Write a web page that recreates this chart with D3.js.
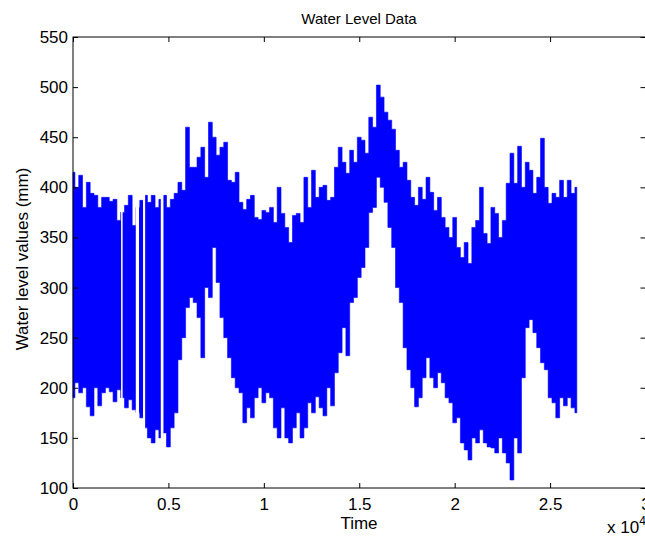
<!doctype html>
<html>
<head>
<meta charset="utf-8">
<script src="https://cdn.jsdelivr.net/npm/d3@7"></script>
<style>
  body { margin: 0; background: #fff; }
  svg { display: block; font-family: "Liberation Sans", Arial, sans-serif; }
</style>
</head>
<body>
<svg width="645" height="542"></svg>
<script>
// time step between envelope samples
var step = 200;

// upper envelope of the water level (mm), one value per 200 time units
var highs = [415, 400, 412, 380, 405, 394, 392, 380, 390, 390,
             386, 388, 367, 375, 382, 392, 362, 380, 387, 392,
             385, 392, 380, 388, 392, 380, 388, 394, 405, 397,
             460, 420, 420, 430, 440, 410, 465, 450, 432, 440,
             445, 407, 405, 415, 385, 378, 388, 392, 370, 368,
             377, 375, 380, 365, 400, 374, 360, 345, 372, 374,
             365, 410, 380, 417, 390, 400, 402, 387, 390, 420,
             440, 425, 414, 437, 425, 450, 447, 434, 470, 460,
             502, 490, 475, 467, 458, 437, 420, 425, 407, 390,
             382, 400, 388, 410, 395, 377, 390, 370, 360, 350,
             370, 340, 330, 345, 324, 360, 367, 400, 354, 344,
             380, 374, 350, 367, 404, 434, 404, 441, 400, 425,
             417, 394, 410, 449, 400, 384, 394, 390, 407, 390,
             407, 394, 400];

// lower envelope of the water level (mm)
var lows = [190, 205, 195, 200, 181, 172, 200, 182, 195, 200,
            196, 186, 198, 190, 180, 188, 178, 175, 170, 160,
            150, 145, 158, 150, 155, 141, 160, 175, 228, 250,
            280, 290, 285, 270, 230, 300, 290, 340, 305, 270,
            250, 230, 210, 200, 195, 165, 180, 170, 190, 200,
            185, 195, 190, 160, 150, 180, 150, 145, 160, 175,
            150, 160, 185, 175, 191, 180, 172, 200, 182, 215,
            235, 260, 232, 285, 290, 310, 320, 340, 375, 380,
            410, 400, 385, 360, 340, 300, 285, 240, 218, 200,
            181, 190, 210, 230, 210, 200, 215, 205, 190, 185,
            165, 170, 145, 138, 128, 150, 145, 158, 145, 141,
            140, 135, 150, 135, 125, 108, 150, 135, 210, 260,
            268, 255, 240, 225, 218, 190, 185, 170, 190, 182,
            190, 180, 175];

// stretches with missing samples [start, end] in time units
var gaps = [[2520, 2600], [3290, 3460], [3670, 3780], [4600, 4740]];

var xTicks = [0, 5000, 10000, 15000, 20000, 25000, 30000];
var yTicks = [100, 150, 200, 250, 300, 350, 400, 450, 500, 550];

var series = highs.map(function(h, i) {
  return { t: i * step, hi: h, lo: lows[i] };
});

var svg = d3.select("svg");

var xScale = d3.scaleLinear().domain([0, 30000]).range([73, 645.5]);
var yScale = d3.scaleLinear().domain([100, 550]).range([488, 37]);

var area = d3.area()
  .curve(d3.curveStep)
  .x(function(d) { return xScale(d.t); })
  .y0(function(d) { return yScale(d.lo); })
  .y1(function(d) { return yScale(d.hi); });

svg.append("path")
  .datum(series)
  .attr("d", area)
  .attr("fill", "#0000ff")
  .attr("stroke", "#0000ff")
  .attr("stroke-width", 0.6);

svg.selectAll("rect.gap")
  .data(gaps)
  .enter().append("rect")
  .attr("class", "gap")
  .attr("x", function(d) { return xScale(d[0]); })
  .attr("width", function(d) { return xScale(d[1]) - xScale(d[0]); })
  .attr("y", yScale(550) + 1)
  .attr("height", yScale(100) - yScale(550) - 2)
  .attr("fill", "#fff");

// axes, MATLAB style: ticks inward on all four sides
var fmt = function(d) { return d / 10000; };

var xAxisB = d3.axisBottom(xScale).tickValues(xTicks).tickSize(-5).tickPadding(10).tickFormat(fmt);
var xAxisT = d3.axisTop(xScale).tickValues(xTicks).tickSize(-5).tickFormat("");
var yAxisL = d3.axisLeft(yScale).tickValues(yTicks).tickSize(-5).tickPadding(5);
var yAxisR = d3.axisRight(yScale).tickValues(yTicks).tickSize(-5).tickFormat("");

svg.append("g").attr("transform", "translate(0,488)").call(xAxisB);
svg.append("g").attr("transform", "translate(0,37)").call(xAxisT);
svg.append("g").attr("transform", "translate(73,0)").call(yAxisL);
svg.append("g").attr("transform", "translate(645.5,0)").call(yAxisR);

svg.selectAll(".domain").remove();
svg.selectAll(".tick line").attr("stroke", "#000");
svg.selectAll(".tick text").attr("font-size", 17).attr("fill", "#000")
  .attr("font-family", "Liberation Sans, Arial, sans-serif");

svg.append("rect")
  .attr("x", 73).attr("y", 37)
  .attr("width", 645.5 - 73).attr("height", 488 - 37)
  .attr("fill", "none").attr("stroke", "#000").attr("stroke-width", 1);

svg.append("text")
  .attr("x", 359).attr("y", 24)
  .attr("text-anchor", "middle").attr("font-size", 15)
  .text("Water Level Data");

svg.append("text")
  .attr("x", 359).attr("y", 529)
  .attr("text-anchor", "middle").attr("font-size", 17)
  .text("Time");

svg.append("text")
  .attr("transform", "translate(28,259) rotate(-90)")
  .attr("text-anchor", "middle").attr("font-size", 17)
  .text("Water level values (mm)");

var mult = svg.append("text")
  .attr("x", 607).attr("y", 533).attr("font-size", 17);
mult.append("tspan").text("x 10");
mult.append("tspan").attr("font-size", 12).attr("dy", -8).text("4");
</script>
</body>
</html>
